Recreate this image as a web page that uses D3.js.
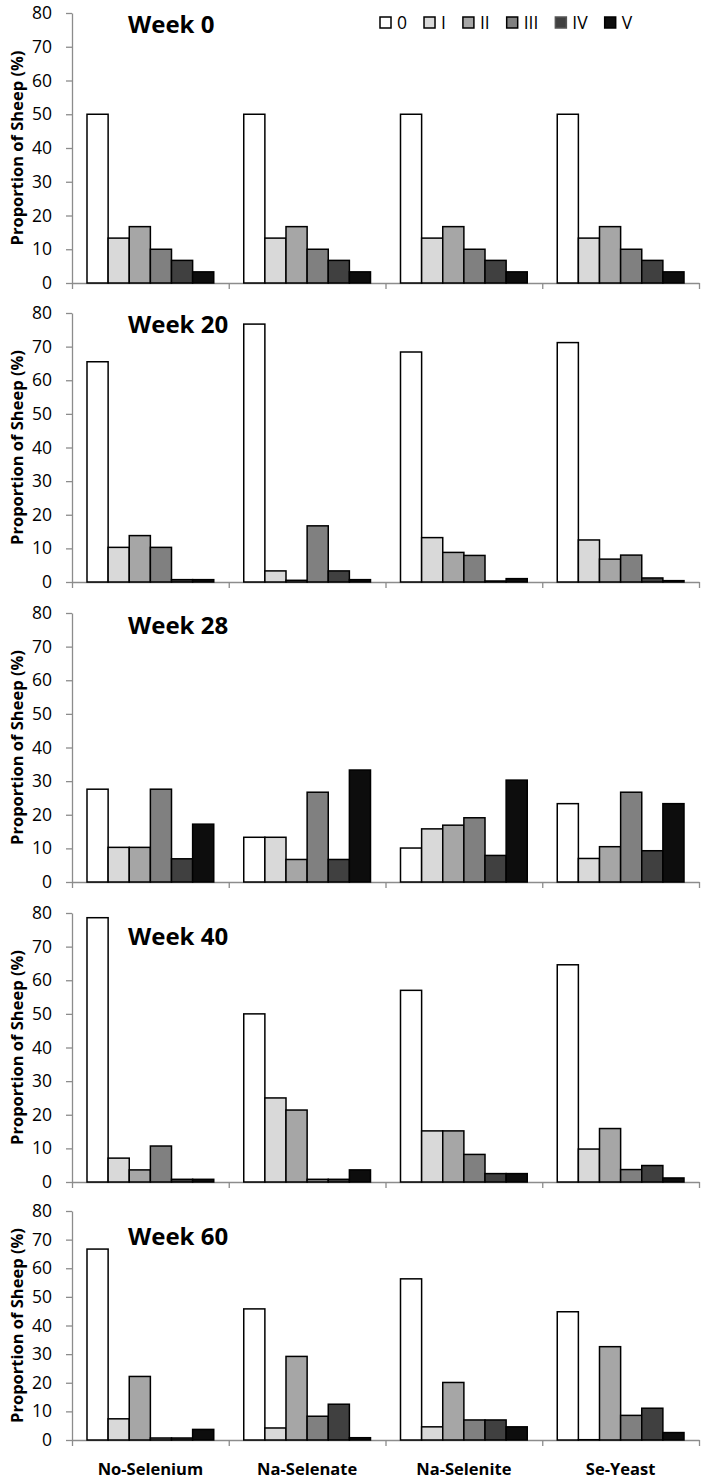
<!DOCTYPE html>
<html><head><meta charset="utf-8">
<script src="https://cdn.jsdelivr.net/npm/d3@7"></script>
<style>body{margin:0;background:#fff}</style>
</head><body><svg id="c" width="710" height="1480"></svg>
<script>
// ---- data ----
const categories = ["No-Selenium", "Na-Selenate", "Na-Selenite", "Se-Yeast"];
const grades = ["0", "I", "II", "III", "IV", "V"];
const yTicks = [0, 10, 20, 30, 40, 50, 60, 70, 80];
const weekTitles = ["Week 0", "Week 20", "Week 28", "Week 40", "Week 60"];
// values per category: [0, I, II, III, IV, V]
const week0 = [
  [50, 13.3, 16.7, 10, 6.7, 3.3],
  [50, 13.3, 16.7, 10, 6.7, 3.3],
  [50, 13.3, 16.7, 10, 6.7, 3.3],
  [50, 13.3, 16.7, 10, 6.7, 3.3]
];
const week20 = [
  [65.5, 10.3, 13.8, 10.3, 0.7, 0.7],
  [76.7, 3.3, 0.5, 16.7, 3.3, 0.7],
  [68.4, 13.2, 8.8, 7.9, 0.3, 1.0],
  [71.2, 12.5, 6.8, 8.0, 1.2, 0.4]
];
const week28 = [
  [27.6, 10.3, 10.3, 27.6, 6.9, 17.2],
  [13.3, 13.3, 6.7, 26.7, 6.7, 33.3],
  [10.1, 15.8, 16.9, 19.1, 7.9, 30.3],
  [23.3, 7.0, 10.5, 26.7, 9.3, 23.3]
];
const week40 = [
  [78.6, 7.1, 3.6, 10.7, 0.8, 0.8],
  [50.0, 25.0, 21.4, 0.8, 0.8, 3.6],
  [57.0, 15.2, 15.2, 8.2, 2.5, 2.5],
  [64.6, 9.8, 15.9, 3.7, 4.9, 1.2]
];
const week60 = [
  [66.7, 7.4, 22.2, 0.7, 0.7, 3.7],
  [45.8, 4.2, 29.2, 8.3, 12.5, 0.8],
  [56.3, 4.6, 20.1, 7.0, 7.0, 4.6],
  [44.8, 0.1, 32.6, 8.6, 11.1, 2.6]
];
const weeks = [week0, week20, week28, week40, week60];
const gradeColors = ["#ffffff", "#d9d9d9", "#a6a6a6", "#808080", "#404040", "#0d0d0d"];

// ---- layout ----
const panelTop = [13, 313, 613, 913, 1211];
const panelBottom = [283, 582, 882, 1182, 1440];
const titleBaseline = [33, 333, 634, 945, 1245];
const plotLeft = 72, plotRight = 699;
const FONT = "'Open Sans', sans-serif";

const svg = d3.select("#c");
const x = d3.scaleBand().domain(categories).range([plotLeft, plotRight]).padding(0);
const xi = d3.scaleBand().domain(grades).range([0, x.bandwidth()]).paddingInner(0).paddingOuter(0.71);
const xb = d3.scaleLinear().domain([0, categories.length]).range([plotLeft, plotRight]);
const color = d3.scaleOrdinal().domain(grades).range(gradeColors);

weeks.forEach((wk, p) => {
  const y = d3.scaleLinear().domain([0, 80]).range([panelBottom[p], panelTop[p]]);
  const g = svg.append("g");

  // y axis
  const ya = g.append("g").attr("transform", `translate(${plotLeft},0)`)
    .call(d3.axisLeft(y).tickValues(yTicks).tickSize(6).tickSizeOuter(0).tickPadding(14));
  ya.select(".domain").attr("stroke", "#8c8c8c").attr("stroke-width", 1.3);
  ya.selectAll(".tick line").attr("stroke", "#8c8c8c").attr("stroke-width", 1.3);
  ya.selectAll(".tick text").attr("font-family", FONT).attr("font-size", 17.5).attr("fill", "#000");

  // x axis
  const xa = g.append("g").attr("transform", `translate(0,${panelBottom[p]})`)
    .call(d3.axisBottom(xb).tickValues(d3.range(categories.length + 1)).tickFormat("").tickSize(6).tickSizeOuter(0));
  xa.select(".domain").attr("stroke", "#8c8c8c").attr("stroke-width", 1.3);
  xa.selectAll(".tick line").attr("stroke", "#8c8c8c").attr("stroke-width", 1.3);

  // bars
  categories.forEach((cat, ci) => {
    g.append("g").selectAll("rect").data(wk[ci]).join("rect")
      .attr("x", (d, i) => x(cat) + xi(grades[i]))
      .attr("y", d => y(d))
      .attr("width", xi.bandwidth())
      .attr("height", d => y(0) - y(d))
      .attr("fill", (d, i) => color(grades[i]))
      .attr("stroke", "#000")
      .attr("stroke-width", 1.5);
  });

  // y label
  g.append("text")
    .attr("transform", `translate(23,${(panelTop[p] + panelBottom[p]) / 2}) rotate(-90)`)
    .attr("text-anchor", "middle")
    .attr("font-family", FONT).attr("font-weight", "bold").attr("font-size", 16.5)
    .text("Proportion of Sheep (%)");

  // title
  g.append("text").attr("x", 128).attr("y", titleBaseline[p])
    .attr("font-family", FONT).attr("font-weight", "bold").attr("font-size", 24)
    .text(weekTitles[p]);
});

// category labels on bottom panel
svg.append("g").selectAll("text").data(categories).join("text")
  .attr("x", d => x(d) + x.bandwidth() / 2)
  .attr("y", 1475)
  .attr("text-anchor", "middle")
  .attr("font-family", FONT).attr("font-weight", "bold").attr("font-size", 16.5)
  .text(d => d);

// legend
const leg = svg.append("g");
let lx = 380;
grades.forEach((gname, i) => {
  leg.append("rect").attr("x", lx).attr("y", 17).attr("width", 11).attr("height", 11)
    .attr("fill", color(gname)).attr("stroke", i === 4 ? "#555" : "#000").attr("stroke-width", 1.5);
  const t = leg.append("text").attr("x", lx + 17).attr("y", 28.5)
    .attr("font-family", FONT).attr("font-size", 17.5).text(gname);
  lx += 17 + t.node().getComputedTextLength() + 17;
});
</script>
</body></html>
